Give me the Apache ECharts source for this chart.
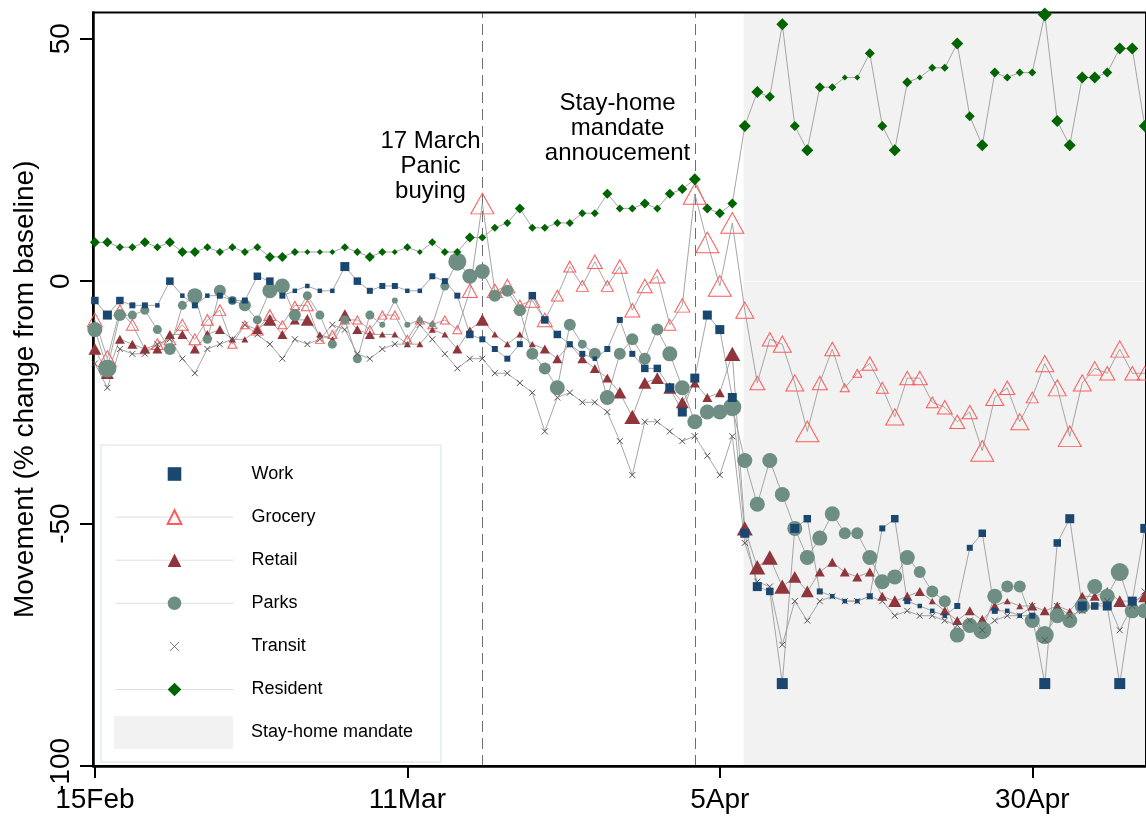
<!DOCTYPE html>
<html>
<head>
<meta charset="utf-8">
<script src="https://cdn.jsdelivr.net/npm/echarts@6/dist/echarts.min.js"></script>
<style>
html,body{margin:0;padding:0;background:#fff;}
#chart{width:1146px;height:818px;}
</style>
</head>
<body>
<div id="chart"></div>
<script>
// ---------- axis / annotation data ----------
const tickDays   = [0, 25, 50, 75];
const tickLabels = ['15Feb', '11Mar', '5Apr', '30Apr'];
const yTicks     = [-100, -50, 0, 50];
const eventDays  = [31, 48];            // 17 March, stay-home announcement
const mandateStart = 51.9;              // stay-home mandate begins
const mandateEnd   = 84.1;
const noteTexts  = ['17 March\nPanic\nbuying', 'Stay-home\nmandate\nannoucement'];
const noteCoords = [[26.85, 23.7], [41.82, 31.6]];

// ---------- series values (day 0 = 15 Feb) ----------
const work = [-4,-7,-4,-5,-5,-5,0,-3,-5,-3,-3,-4,-4,1,0,-3,-2,-1,-2,-2,3,
  0,-2,-1,-1,-2,-2,1,0,-3,-11,-12,-14,-16,-13,-3,-8,-11,-13,-15,
  -16,-14,-8,-15,-18,-18,-22,-27,-20,-7,-10,-24,
  -52,-63,-64,-83,-51,-49,-64,-65,-66,-66,-65,-51,-49,-66,-67,-68,-69,-67,-55,-52,
  -68,-68,-69,-69,-83,-54,-49,-67,-67,-67,-83,-66,-51];
const grocery = [-8,-16,-6,-9,-14,-13,-12,-9,-12,-8,-6,-13,-9,-10,-7,-9,-5,-5,-12,-11,-8,
  -8,-10,-7,-7,-12,-8,-9,-8,-10,-2,16,-2,-1,-5,-4,-8,-3,3,-1,4,
  -1,3,-6,-1,1,-9,-5,18,8,-1,12,
  -6,-21,-12,-13,-21,-31,-21,-14,-22,-19,-17,-22,-28,-20,-20,-25,-26,-29,-27,-35,
  -24,-22,-29,-24,-17,-22,-32,-21,-18,-19,-14,-19,-19];
const retail = [-14,-19,-12,-13,-14,-14,-11,-11,-14,-11,-10,-12,-12,-10,-8,-11,-8,-8,-11,-12,-7,
  -10,-11,-11,-11,-13,-13,-10,-11,-14,-10,-8,-11,-13,-11,-13,-14,-16,-13,-16,-18,
  -20,-23,-28,-21,-20,-22,-25,-21,-24,-23,-15,
  -51,-59,-57,-63,-61,-64,-60,-58,-60,-61,-60,-65,-66,-65,-64,-66,-68,-70,-68,-70,
  -67,-66,-67,-67,-68,-67,-68,-65,-65,-64,-66,-66,-65];
const parks = [-10,-18,-7,-7,-6,-10,-14,-5,-3,-12,-2,-4,-5,-8,-2,-1,-7,-3,-7,-13,-8,
  -16,-7,-9,-4,-9,-8,-9,-1,4,1,2,-3,-2,-6,-15,-18,-22,-9,-13,-15,
  -24,-15,-12,-16,-10,-15,-22,-29,-27,-27,-26,
  -37,-46,-37,-44,-51,-57,-53,-48,-52,-52,-57,-62,-61,-57,-60,-64,-66,-73,-71,-72,
  -65,-63,-63,-70,-73,-69,-70,-67,-63,-65,-60,-68,-68];
const transit = [-17,-22,-14,-15,-15,-13,-12,-16,-19,-14,-13,-12,-9,-11,-13,-16,-12,-13,-12,-9,-10,
  -15,-16,-14,-13,-13,-9,-12,-15,-18,-16,-16,-19,-19,-21,-23,-31,-24,-23,-25,-25,
  -27,-33,-40,-29,-29,-31,-33,-32,-36,-40,-32,
  -54,-62,-63,-75,-66,-70,-66,-65,-66,-66,-65,-66,-69,-68,-69,-69,-70,-71,-70,-72,
  -70,-69,-69,-67,-74,-67,-69,-68,-67,-66,-72,-67,-64];
const resident = [8,8,7,7,8,7,8,6,6,7,6,7,6,7,5,5,6,6,6,6,7,
  6,5,6,6,7,6,8,6,6,9,9,11,12,
  15,11,11,12,12,14,14,18,15,15,16,15,18,19,21,15,14,16,
  32,39,38,53,32,27,40,40,42,42,47,32,27,41,42,44,44,49,34,28,
  43,42,43,43,55,33,28,42,42,43,48,48,32];

// ---------- analytic weights (1 = lowest .. 5 = highest) ----------
const workWeight = [3,4,3,2,2,1,3,1,2,1,2,2,2,3,3,2,1,1,1,1,4,
  3,2,2,2,1,1,2,2,2,3,2,2,2,2,3,3,3,2,2,
  1,2,2,2,3,3,4,4,4,4,4,4,
  4,4,3,5,4,3,2,1,1,1,2,2,3,2,1,1,1,2,2,3,2,1,1,2,5,3,4,4,3,4,5,4,4];
const groceryWeight = [3,4,2,2,1,2,2,2,2,2,2,1,1,2,2,1,1,2,1,1,1,
  1,1,1,1,1,1,1,1,1,3,5,3,3,2,3,3,2,2,2,3,
  2,3,3,3,3,2,3,5,5,5,5,
  4,3,3,4,4,5,3,3,1,1,3,2,4,3,3,2,3,3,3,5,4,3,4,2,4,4,5,4,3,3,4,3,3];
const retailWeight = [3,3,2,2,2,2,2,2,2,2,2,1,1,2,3,2,2,3,1,1,3,
  2,2,1,1,1,1,1,1,2,1,3,1,1,1,1,2,2,1,2,2,
  2,3,4,3,3,3,3,2,2,2,4,
  4,4,4,4,3,3,2,2,2,2,2,2,3,2,2,1,2,2,2,3,2,1,1,2,2,2,1,2,2,2,3,2,3];
const parksWeight = [4,5,3,2,2,2,3,2,4,2,3,2,3,2,4,4,3,2,2,2,2,
  2,2,1,1,1,1,1,2,5,4,4,3,3,3,3,3,4,3,2,3,
  4,3,3,3,3,4,4,4,4,4,5,
  4,4,4,4,4,4,4,4,3,3,4,4,4,4,3,3,3,4,4,5,4,3,3,4,5,4,4,4,4,4,5,4,4];
const residentWeight = [3,3,2,2,3,2,3,3,3,2,2,2,2,2,3,3,2,1,1,1,2,
  2,3,2,1,2,1,2,2,2,3,2,2,2,
  3,2,2,2,2,2,2,3,2,2,3,2,3,3,4,3,3,3,
  4,4,3,4,3,4,3,2,1,1,3,3,4,3,1,2,2,4,3,4,3,2,2,2,5,4,4,4,4,3,4,4,4];

// ---------- styling ----------
const FONT = 'Liberation Sans, Arial, sans-serif';
const LINE = { color: '#9c9c9c', width: 0.9 };
const SIZES = {
  work: [4.5, 6, 7.5, 9, 11],
  grocery: [9, 12, 15, 18, 23],
  retail: [7, 10, 13, 16, 19],
  parks: [6, 9, 12, 15, 18],
  resident: [6, 8, 10, 12, 14]
};
const X_MARK = 'path://M0,0L10,10M10,0L0,10';
const X_MARK_LEGEND = 'path://M0,0M4,4L13,13M13,4L4,13M17,17';
const toPairs = arr => arr.map((v, i) => [i, v]);
const sizeBy = (table, weights, tri) => (val, p) => {
  const s = table[weights[p.dataIndex] - 1];
  return tri ? [s, s * 0.9] : s;
};

function lineSeries(name, values, extra) {
  return Object.assign({
    name: name,
    type: 'line',
    data: toPairs(values),
    showAllSymbol: true,
    lineStyle: LINE,
    emphasis: { disabled: true },
    silent: true
  }, extra);
}

const chart = echarts.init(document.getElementById('chart'), null, { renderer: 'canvas' });

const option = {
  animation: false,
  backgroundColor: '#fff',
  textStyle: { fontFamily: FONT },
  grid: { left: 93, right: 0, top: 12.5, bottom: 52, show: true, borderColor: '#000', borderWidth: 2, z: 3, backgroundColor: 'transparent' },
  xAxis: {
    type: 'value', min: -0.15, max: 84.1, z: 3,
    splitLine: { show: false },
    axisLine: { onZero: false, lineStyle: { color: '#000', width: 2.5 } },
    axisTick: { show: true, length: 12, lineStyle: { color: '#000', width: 2 }, customValues: tickDays },
    axisLabel: {
      customValues: tickDays, margin: 20, color: '#000', fontSize: 28, fontFamily: FONT,
      formatter: v => tickLabels[tickDays.indexOf(Math.round(v))] || ''
    }
  },
  yAxis: {
    type: 'value', min: -100, max: 55.4, z: 3,
    name: 'Movement (% change from baseline)',
    nameLocation: 'middle', nameRotate: 90, nameGap: 52,
    nameTextStyle: { fontSize: 28, color: '#000', fontFamily: FONT },
    splitLine: { show: false },
    axisLine: { onZero: false, lineStyle: { color: '#000', width: 2.5 } },
    axisTick: { show: true, length: 13, lineStyle: { color: '#000', width: 2 }, customValues: yTicks },
    axisLabel: { customValues: yTicks, rotate: 90, margin: 18, color: '#000', fontSize: 28, fontFamily: FONT }
  },
  legend: [
    {
      orient: 'vertical', left: 115, top: 464, padding: 0,
      itemWidth: 118, itemHeight: 17, itemGap: 23.1,
      selectedMode: false,
      textStyle: { fontSize: 18, color: '#000', fontFamily: FONT, lineHeight: 20, padding: [0, 0, 0, 13] },
      lineStyle: { color: '#dedede', width: 1 },
      data: [
        { name: 'Work', lineStyle: { opacity: 0 } },
        { name: 'Grocery' },
        { name: 'Retail' },
        { name: 'Parks' },
        { name: 'Transit', icon: X_MARK_LEGEND, itemStyle: { color: '#777', borderColor: '#777', borderWidth: 1 } },
        { name: 'Resident' }
      ]
    },
    {
      orient: 'vertical', left: 114, top: 716, padding: 0,
      itemWidth: 119, itemHeight: 33, selectedMode: false,
      textStyle: { fontSize: 18, color: '#000', fontFamily: FONT, padding: [0, 0, 0, 13] },
      data: [{ name: 'Stay-home mandate', icon: 'rect', itemStyle: { color: '#f2f2f2', borderWidth: 0 } }]
    }
  ],
  graphic: [{
    type: 'rect', z: -1, silent: true,
    shape: { x: 101, y: 445, width: 340, height: 317 },
    style: { fill: '#fff', stroke: '#e4ecf1', lineWidth: 1.5 }
  }],
  series: [
    {
      name: 'Stay-home mandate', type: 'line', data: [], silent: true,
      itemStyle: { color: '#f2f2f2' },
      markArea: {
        silent: true, z: 1,
        itemStyle: { color: '#f2f2f2' },
        data: [[{ xAxis: mandateStart }, { xAxis: mandateEnd }]]
      },
      markLine: {
        silent: true, symbol: 'none', z: 1,
        label: { show: false },
        lineStyle: { color: '#6e6e6e', width: 1, type: [11, 6] },
        data: eventDays.map(d => ({ xAxis: d })).concat([{ yAxis: 0, lineStyle: { color: '#fafafa', width: 1, type: 'solid' } }])
      },
      markPoint: {
        silent: true, symbolSize: 0,
        label: {
          show: true, position: 'inside', color: '#000', fontSize: 24, lineHeight: 25,
          fontFamily: FONT, align: 'center', verticalAlign: 'middle',
          formatter: p => p.name
        },
        data: noteTexts.map((t, i) => ({ name: t, coord: noteCoords[i] }))
      }
    },
    lineSeries('Grocery', grocery, {
      symbol: 'triangle', symbolSize: sizeBy(SIZES.grocery, groceryWeight, true),
      itemStyle: { color: 'rgba(255,255,255,0)', borderColor: '#ff5a5a', borderWidth: 1 }
    }),
    lineSeries('Retail', retail, {
      symbol: 'triangle', symbolSize: sizeBy(SIZES.retail, retailWeight, true),
      itemStyle: { color: '#90353b' }
    }),
    lineSeries('Parks', parks, {
      symbol: 'circle', symbolSize: sizeBy(SIZES.parks, parksWeight, false),
      itemStyle: { color: '#6e8e84' }
    }),
    lineSeries('Transit', transit, {
      symbol: X_MARK, symbolSize: 6,
      itemStyle: { color: '#555', borderColor: '#555', borderWidth: 1 }
    }),
    lineSeries('Resident', resident, {
      symbol: 'diamond', symbolSize: sizeBy(SIZES.resident, residentWeight, false),
      itemStyle: { color: '#006400' }
    }),
    lineSeries('Work', work, {
      symbol: 'rect', symbolSize: sizeBy(SIZES.work, workWeight, false),
      itemStyle: { color: '#1a476f' }
    })
  ]
};

chart.setOption(option);
</script>
</body>
</html>
